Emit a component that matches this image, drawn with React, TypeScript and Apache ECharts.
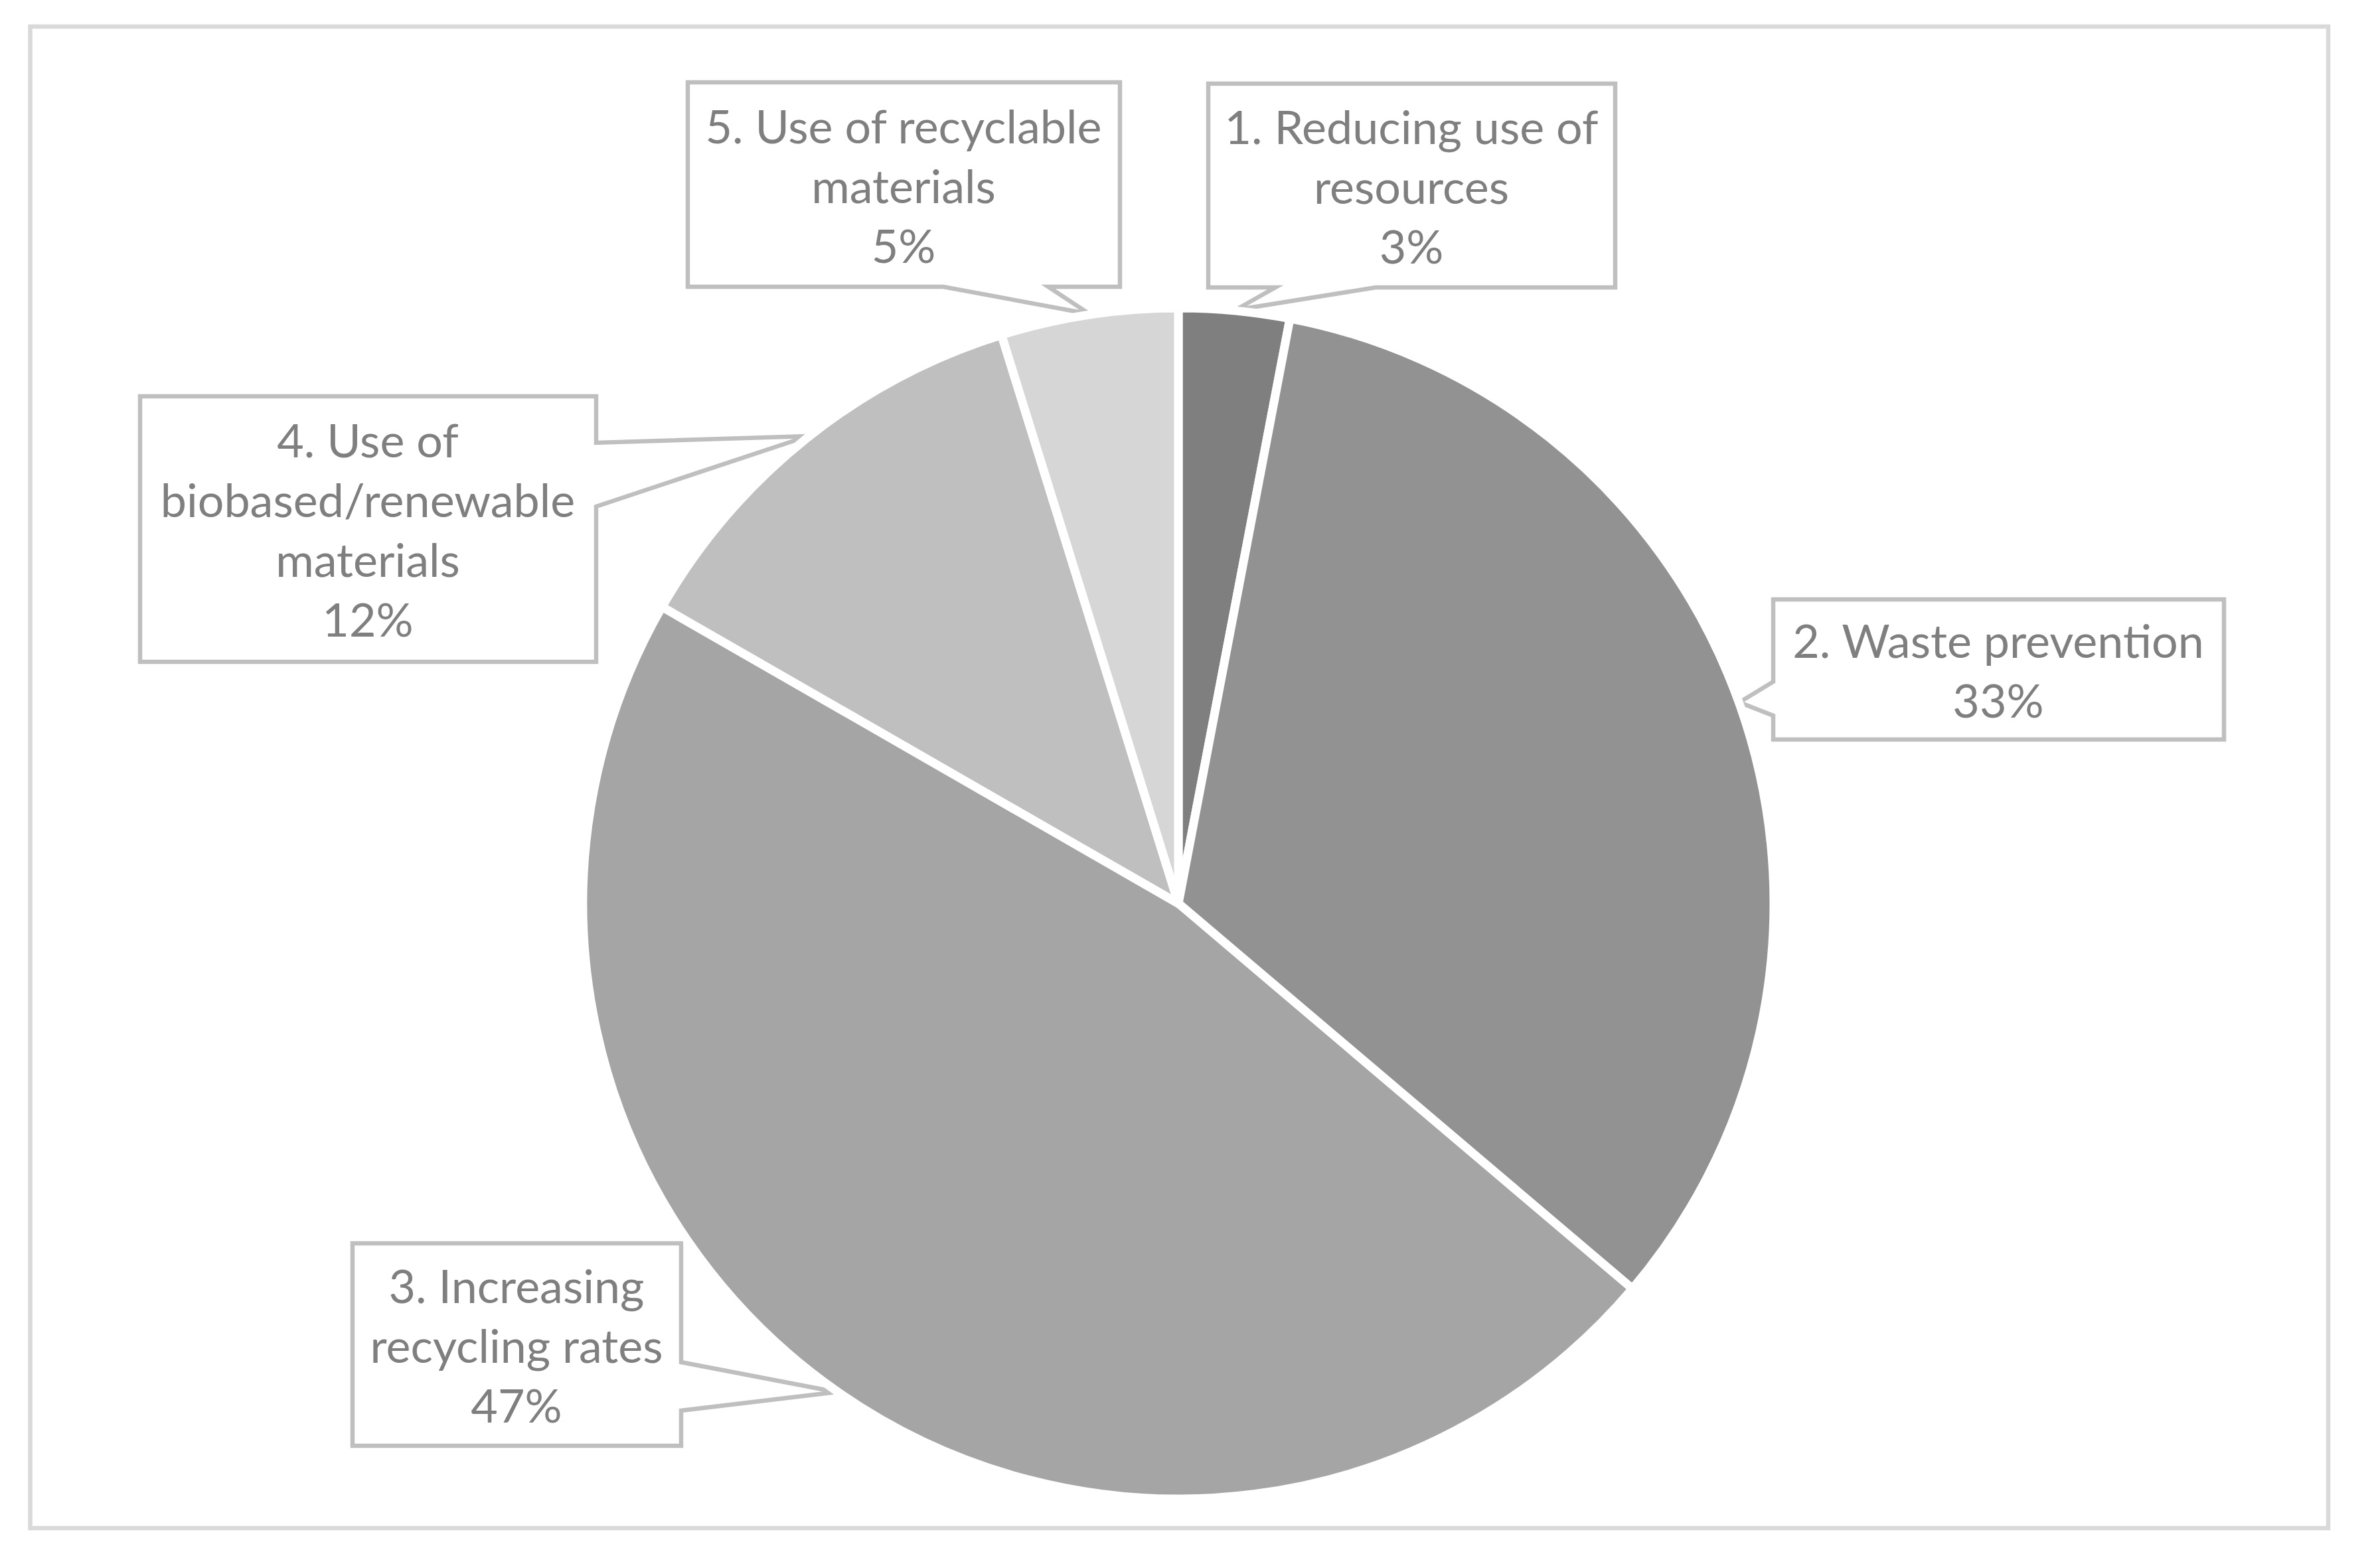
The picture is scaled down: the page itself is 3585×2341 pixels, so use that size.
import React, { useEffect, useRef } from "react";
import * as echarts from "echarts";

// ---- data ----
const categories = [
  "1. Reducing use of\nresources",
  "2. Waste prevention",
  "3. Increasing\nrecycling rates",
  "4. Use of\nbiobased/renewable\nmaterials",
  "5. Use of recyclable\nmaterials",
];
const shares = [3, 33.2, 47.1, 11.9, 4.8];
const sliceColors = ["#7F7F7F", "#929292", "#A5A5A5", "#BFBFBF", "#D6D6D6"];

// ---- layout (page pixels) ----
const W = 3585;
const H = 2341;
const PIE_CENTER = [1775, 1361];
const PIE_RADIUS = 897;

// label box centres
const labelCenters = [
  [2126, 280],
  [3010, 1009],
  [778, 2026],
  [554, 797],
  [1361, 279],
];

// callout outlines (box + pointer)
const callouts: number[][][] = [
  [
    [1820, 126], [2433, 126], [2433, 433], [2072, 433], [1861, 467], [1921, 433], [1820, 433],
  ],
  [
    [2671, 903], [3350, 903], [3350, 1114], [2671, 1114], [2671, 1078], [2620, 1058], [2671, 1027],
  ],
  [
    [531, 1873], [1026, 1873], [1026, 2052], [1260, 2097], [1026, 2125], [1026, 2178], [531, 2178],
  ],
  [
    [211, 597], [898, 597], [898, 667], [1217, 657], [898, 763], [898, 997], [211, 997],
  ],
  [
    [1036, 124], [1687, 124], [1687, 432], [1579, 432], [1641, 473], [1421, 432], [1036, 432],
  ],
];

export default function App() {
  const ref = useRef<HTMLDivElement>(null);
  useEffect(() => {
    if (!ref.current) return;
    const chart = echarts.init(ref.current, null, { renderer: "svg" });
    const graphics: any[] = [
      {
        type: "rect",
        shape: { x: 45.5, y: 40, width: 3461.5, height: 2262 },
        style: { fill: "#FFFFFF", stroke: "#D9D9D9", lineWidth: 6.5 },
        z: -10,
      },
    ];
    callouts.forEach((pts) => {
      graphics.push({
        type: "polygon",
        shape: { points: pts },
        style: { fill: "#FFFFFF", stroke: "#BFBFBF", lineWidth: 6.5, lineJoin: "miter" },
        z: 0,
      });
    });
    chart.setOption({
      animation: false,
      backgroundColor: "#FFFFFF",
      graphic: { elements: graphics },
      series: [
        {
          type: "pie",
          center: PIE_CENTER,
          radius: PIE_RADIUS,
          startAngle: 90,
          clockwise: true,
          avoidLabelOverlap: false,
          percentPrecision: 0,
          z: 5,
          data: categories.map((name, i) => ({
            name,
            value: shares[i],
            itemStyle: { color: sliceColors[i] },
          })),
          itemStyle: { borderColor: "#FFFFFF", borderWidth: 13 },
          label: {
            show: true,
            position: "outside",
            formatter: "{b}\n{d}%",
            fontFamily: "Lato, 'Liberation Sans', sans-serif",
            fontSize: 70,
            lineHeight: 90,
            color: "#7F7F7F",
            align: "center",
          },
          labelLine: { show: false },
          labelLayout: (params: any) => {
            const c = labelCenters[params.dataIndex];
            return {
              x: c[0],
              y: c[1],
              align: "center",
              verticalAlign: "middle",
              hideOverlap: false,
            };
          },
          emphasis: { disabled: true },
        },
      ],
    });
    return () => chart.dispose();
  }, []);
  return (
    <div
      ref={ref}
      style={{ position: "absolute", left: 0, top: 0, width: W, height: H }}
    />
  );
}
